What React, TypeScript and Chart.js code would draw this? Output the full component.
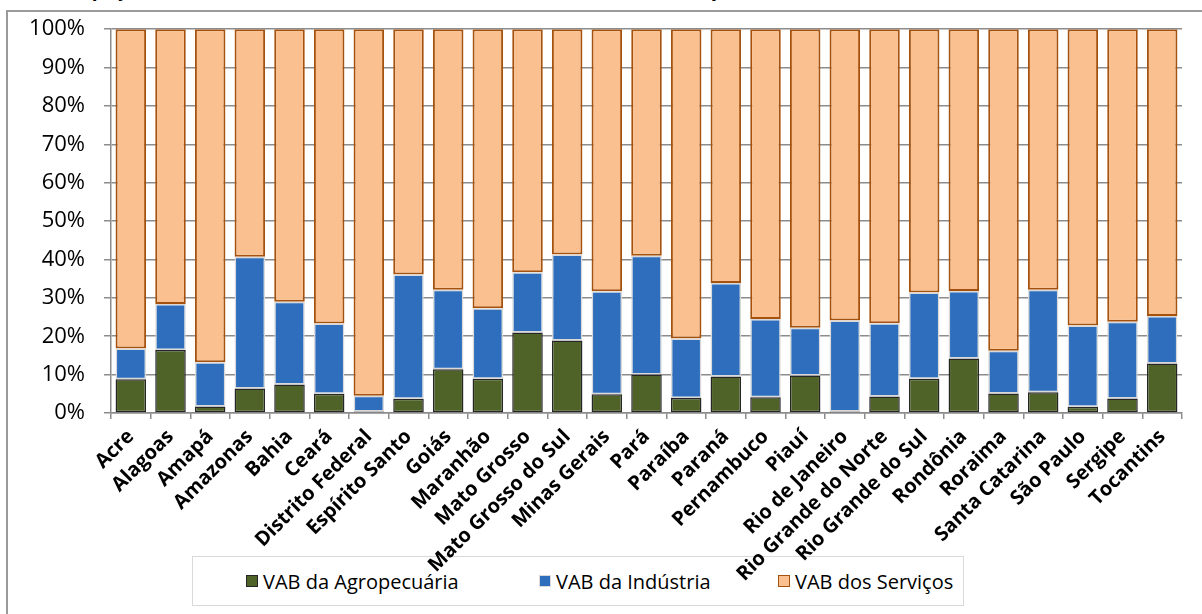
import React, { useEffect, useRef } from "react";
import { Chart, registerables } from "chart.js";

Chart.register(...registerables);

const categories = [
  "Acre", "Alagoas", "Amapá", "Amazonas", "Bahia", "Ceará", "Distrito Federal",
  "Espírito Santo", "Goiás", "Maranhão", "Mato Grosso", "Mato Grosso do Sul",
  "Minas Gerais", "Pará", "Paraíba", "Paraná", "Pernambuco", "Piauí",
  "Rio de Janeiro", "Rio Grande do Norte", "Rio Grande do Sul", "Rondônia",
  "Roraima", "Santa Catarina", "São Paulo", "Sergipe", "Tocantins",
];

const agropecuaria = [
  8.8, 16.4, 1.7, 6.4, 7.4, 5.0, 0.4, 3.7, 11.4, 8.9, 21.0, 18.9, 4.9, 10.0,
  3.9, 9.5, 4.1, 9.8, 0.4, 4.3, 8.9, 14.2, 5.1, 5.4, 1.6, 3.8, 12.9,
];

const industria = [
  8.0, 12.0, 11.5, 34.3, 21.6, 18.3, 4.1, 32.4, 20.7, 18.4, 15.7, 22.4, 26.8,
  31.0, 15.5, 24.4, 20.4, 12.4, 23.7, 19.1, 22.5, 17.6, 11.1, 26.7, 21.2, 20.0,
  12.4,
];

const servicos = [
  83.2, 71.6, 86.8, 59.3, 71.0, 76.7, 95.5, 63.9, 67.9, 72.7, 63.3, 58.7, 68.3,
  59.0, 80.6, 66.1, 75.5, 77.8, 75.9, 76.6, 68.6, 68.2, 83.8, 67.9, 77.2, 76.2,
  74.7,
];

const seriesNames = ["VAB da Agropecuária", "VAB da Indústria", "VAB dos Serviços"];
const titleText =
  "Participação das atividades econômicas no VAB das Unidades da Federação – 2015 (em %)";

const GREEN = "#4F6228";
const GREEN_BORDER = "#262626";
const BLUE = "#2E6EBD";
const BLUE_BORDER = "#D9D9D9";
const ORANGE = "#FAC090";
const ORANGE_BORDER = "#A5520F";
const GRID = "#8C8C8C";

export default function App() {
  const canvasRef = useRef<HTMLCanvasElement | null>(null);

  useEffect(() => {
    const ctx = canvasRef.current;
    if (!ctx) return;
    const chart = new Chart(ctx, {
      type: "bar",
      data: {
        labels: categories,
        datasets: [
          {
            label: seriesNames[0],
            data: agropecuaria,
            backgroundColor: GREEN,
            borderColor: GREEN_BORDER,
            borderWidth: 1.5,
            borderSkipped: false,
          },
          {
            label: seriesNames[1],
            data: industria,
            backgroundColor: BLUE,
            borderColor: BLUE_BORDER,
            borderWidth: 1.5,
            borderSkipped: false,
          },
          {
            label: seriesNames[2],
            data: servicos,
            backgroundColor: ORANGE,
            borderColor: ORANGE_BORDER,
            borderWidth: 2,
            borderSkipped: false,
          },
        ],
      },
      options: {
        responsive: false,
        animation: false,
        datasets: {
          bar: { categoryPercentage: 1, barPercentage: 0.77 },
        },
        layout: { padding: { left: 11, right: 20, top: 25, bottom: 0 } },
        plugins: {
          legend: { display: false },
          tooltip: { enabled: false },
          title: { display: false },
        },
        scales: {
          x: {
            stacked: true,
            grid: {
              display: true,
              drawOnChartArea: false,
              drawTicks: true,
              tickLength: 6,
              color: GRID,
              lineWidth: 1.5,
              offset: true,
            },
            border: { display: true, color: GRID, width: 1.5 },
            ticks: {
              autoSkip: false,
              maxRotation: 45,
              minRotation: 45,
              color: "#000",
              padding: 6,
              font: { family: "'Open Sans'", size: 20, weight: "bold" },
            },
            afterFit: (s: any) => {
              s.height = 201;
            },
          },
          y: {
            stacked: true,
            min: 0,
            max: 100,
            ticks: {
              stepSize: 10,
              color: "#000",
              padding: 19,
              font: { family: "'Open Sans'", size: 22 },
              callback: (v: any) => v + "%",
            },
            grid: { color: GRID, lineWidth: 1.5, tickLength: 7 },
            border: { display: true, color: GRID, width: 1.5 },
            afterFit: (s: any) => {
              s.width = 100;
            },
          },
        },
      },
    });
    return () => chart.destroy();
  }, []);

  const legendItems = [
    { name: seriesNames[0], fill: GREEN, border: GREEN_BORDER, left: 246 },
    { name: seriesNames[1], fill: BLUE, border: BLUE_BORDER, left: 539 },
    { name: seriesNames[2], fill: ORANGE, border: ORANGE_BORDER, left: 778 },
  ];

  return (
    <div
      style={{
        position: "fixed",
        left: 0,
        top: 0,
        width: 1202,
        height: 614,
        overflow: "hidden",
        background: "#fff",
        fontFamily: "'Open Sans', sans-serif",
      }}
    >
      <div
        style={{
          position: "absolute",
          left: 6,
          top: 10,
          width: 1220,
          height: 640,
          borderLeft: "2px solid #9a9a9a",
          borderTop: "2px solid #9a9a9a",
          boxSizing: "border-box",
          background: "#fff",
        }}
      />
      <div
        style={{
          position: "absolute",
          left: 30,
          top: -21,
          whiteSpace: "nowrap",
          fontSize: 19,
          lineHeight: "20px",
          fontWeight: "bold",
          color: "#000",
        }}
      >
        {titleText}
      </div>
      <div
        style={{
          position: "absolute",
          left: 192,
          top: 556,
          width: 772,
          height: 50,
          border: "1px solid #D9D9D9",
          boxSizing: "border-box",
          background: "#fff",
        }}
      />
      {legendItems.map((it) => (
        <div
          key={it.name}
          style={{
            position: "absolute",
            left: it.left,
            top: 566,
            height: 30,
            display: "flex",
            alignItems: "center",
            whiteSpace: "nowrap",
            fontSize: 20,
            color: "#000",
          }}
        >
          <span
            style={{
              display: "inline-block",
              width: 12,
              height: 12,
              background: it.fill,
              border: `1.5px solid ${it.border}`,
              boxSizing: "border-box",
              marginRight: 5,
            }}
          />
          <span>{it.name}</span>
        </div>
      ))}
      <canvas
        ref={canvasRef}
        width={1202}
        height={617}
        style={{ position: "absolute", left: 0, top: -3, width: 1202, height: 617 }}
      />
    </div>
  );
}
